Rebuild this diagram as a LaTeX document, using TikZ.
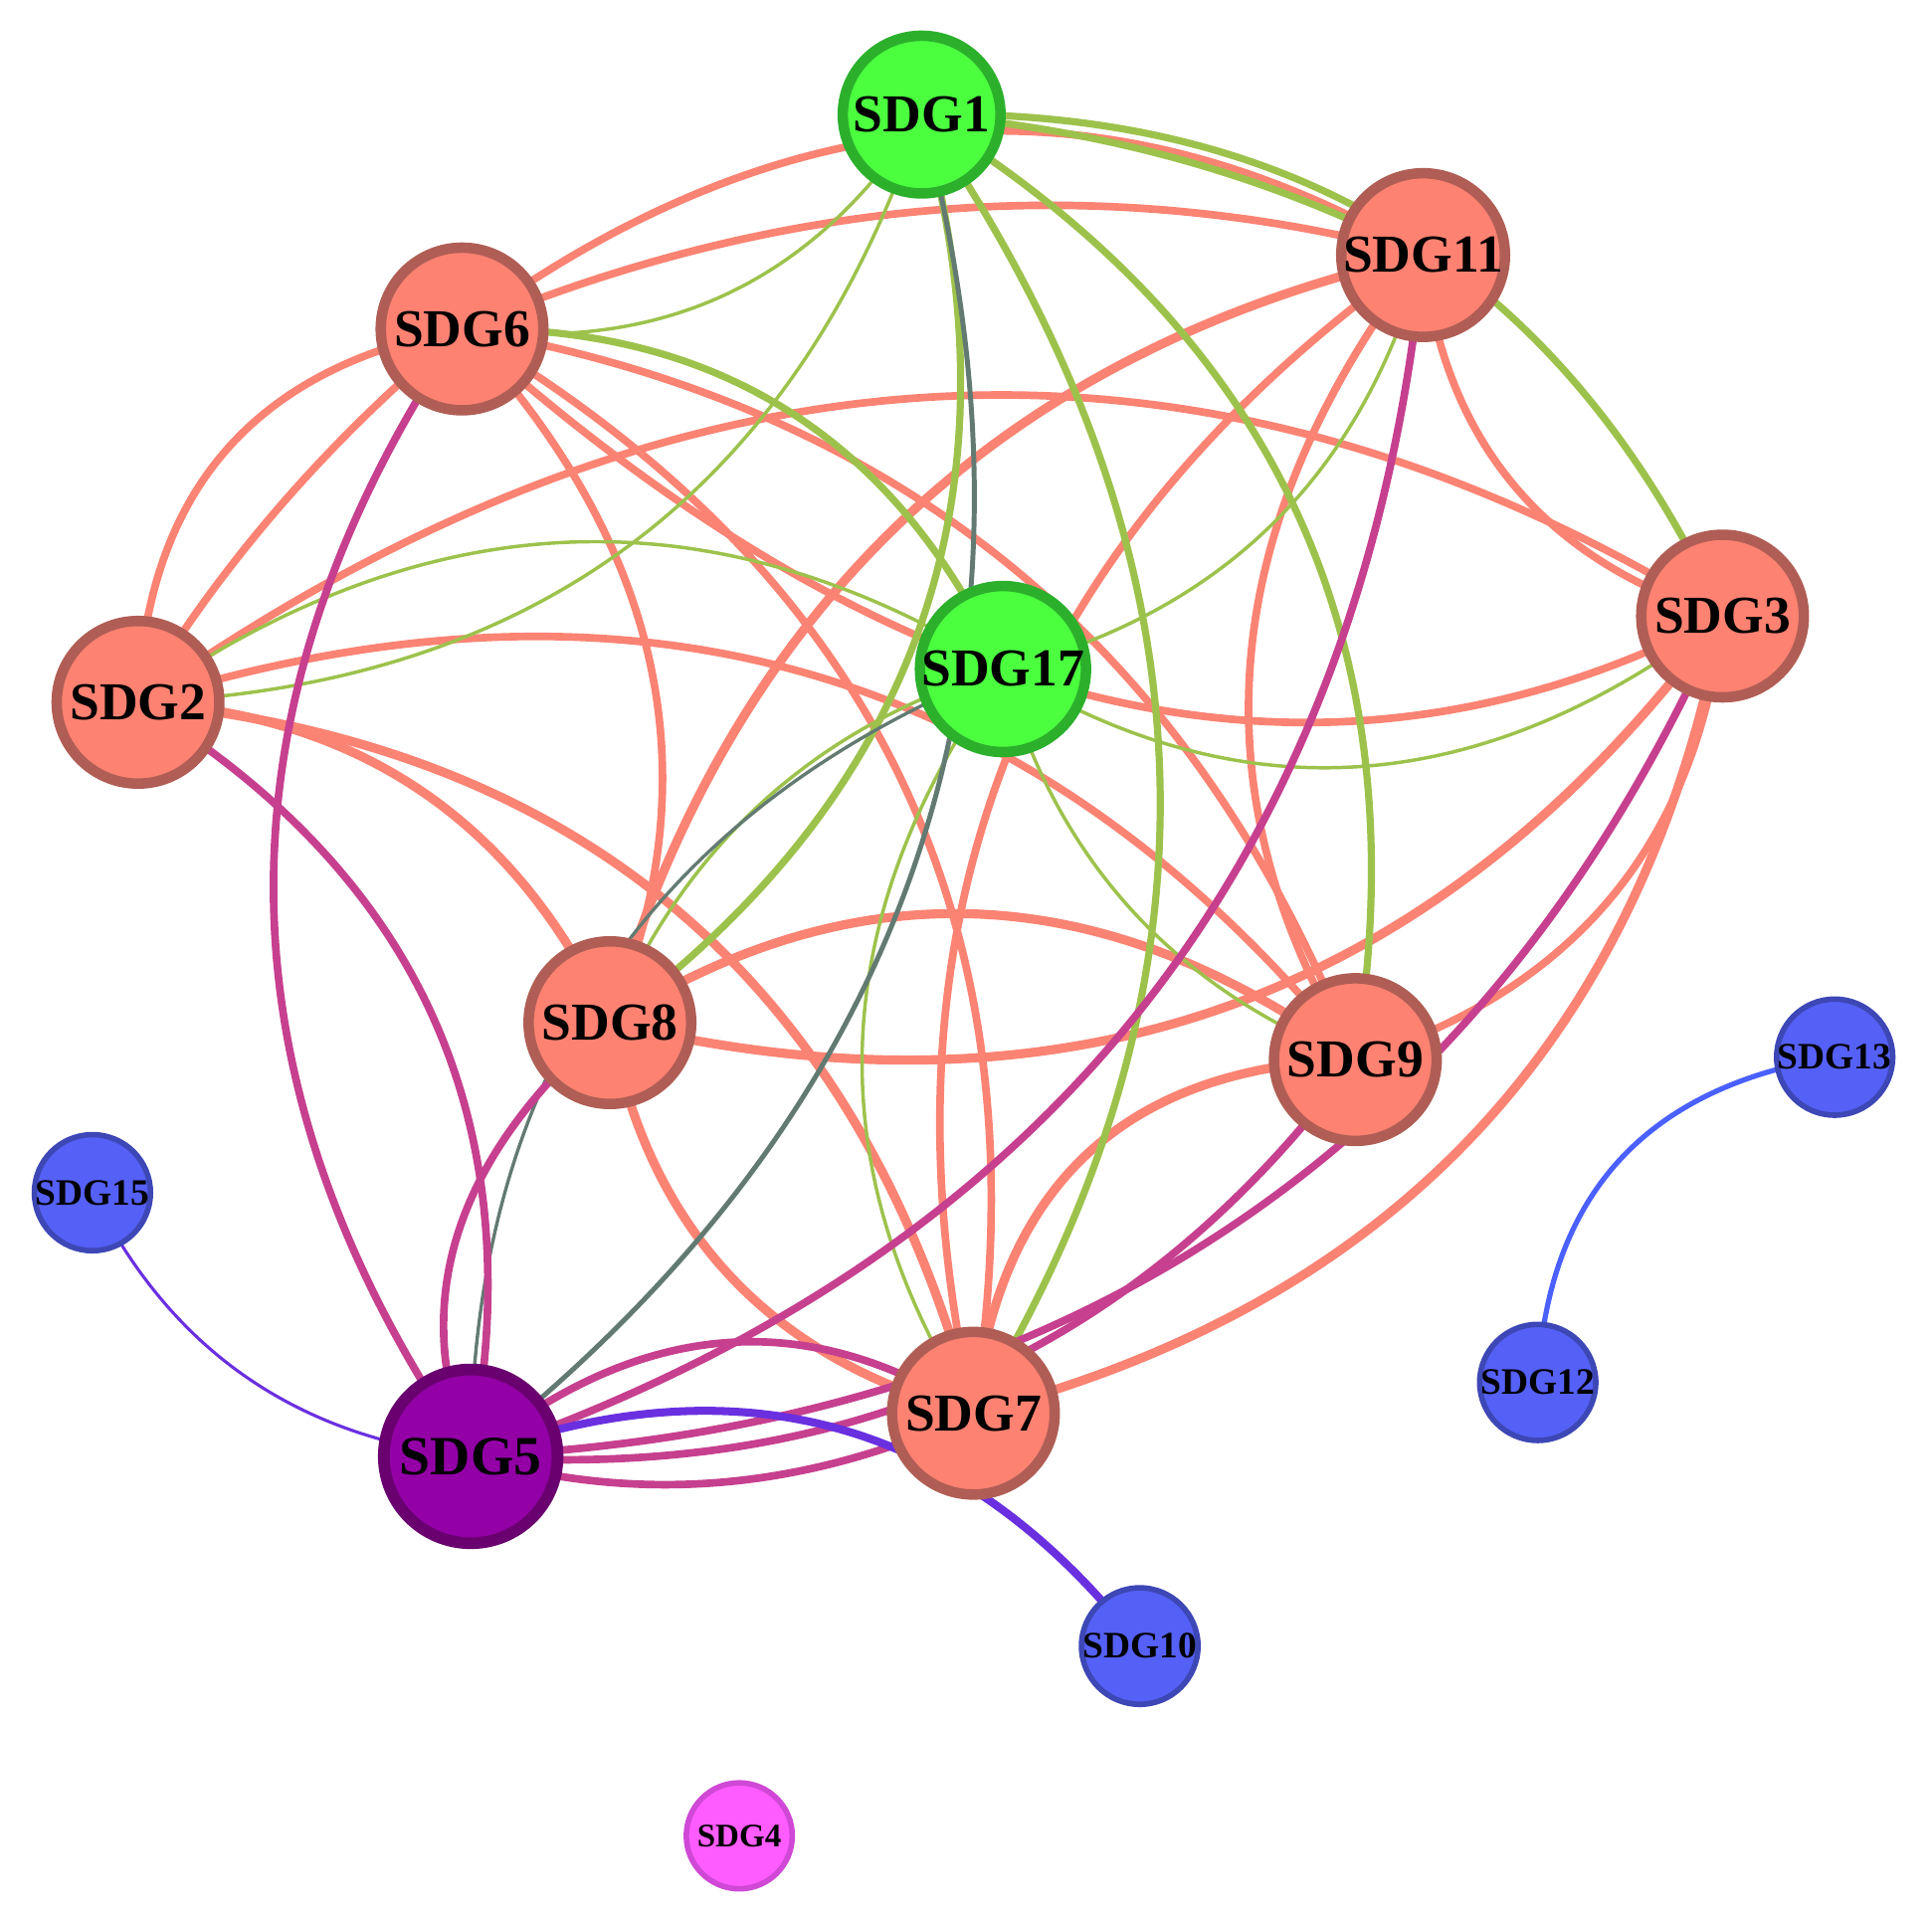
\documentclass[tikz,border=0pt]{standalone}
\usepackage{fontspec}
\setmainfont{Liberation Serif}
\usetikzlibrary{calc,backgrounds}
\definecolor{esalm}{HTML}{FA8373}
\definecolor{egrn}{HTML}{9DC24C}
\definecolor{epur}{HTML}{C6408F}
\definecolor{egry}{HTML}{627A72}
\definecolor{evio}{HTML}{6A30E0}
\definecolor{eblu}{HTML}{4A60FF}
\definecolor{fsalm}{HTML}{FD8272}
\definecolor{bsalm}{HTML}{B05E55}
\definecolor{fgrn}{HTML}{4BFF3F}
\definecolor{bgrn}{HTML}{2CB02C}
\definecolor{fpur}{HTML}{9200A6}
\definecolor{bpur}{HTML}{6A006F}
\definecolor{fblu}{HTML}{5560F6}
\definecolor{bblu}{HTML}{3D47B5}
\definecolor{fmag}{HTML}{FF5CFF}
\definecolor{bmag}{HTML}{CF48D6}
\newcommand\ed[4]{\draw[#1] (#2.center) .. controls ($1.3333*(#4)-0.3333*(#3.center)$) and ($1.3333*(#4)-0.3333*(#2.center)$) .. (#3.center);}
\tikzset{
  bignode/.style={circle, draw=bsalm, fill=fsalm, line width=0.85mm, minimum size=13.2mm, inner sep=0pt, font=\bfseries\fontsize{12.3pt}{12.3pt}\selectfont},
  grnnode/.style={bignode, draw=bgrn, fill=fgrn, minimum size=12.8mm},
  purnode/.style={bignode, draw=bpur, fill=fpur, line width=0.95mm, minimum size=14.1mm, font=\bfseries\fontsize{12.8pt}{12.8pt}\selectfont},
  smallnode/.style={circle, draw=bblu, fill=fblu, line width=0.45mm, minimum size=9.2mm, inner sep=0pt, font=\bfseries\fontsize{8.6pt}{8.6pt}\selectfont},
  magnode/.style={smallnode, draw=bmag, fill=fmag, minimum size=8.6mm, font=\bfseries\fontsize{7.6pt}{7.6pt}\selectfont},
  salm/.style={draw=esalm, line width=0.62mm},
  salmk/.style={draw=esalm, line width=0.74mm},
  grnk/.style={draw=egrn, line width=0.58mm},
  grnt/.style={draw=egrn, line width=0.28mm},
  purp/.style={draw=epur, line width=0.62mm},
  greyk/.style={draw=egry, line width=0.4mm},
  greyt/.style={draw=egry, line width=0.27mm},
  viot/.style={draw=evio, line width=0.25mm},
  viok/.style={draw=evio, line width=0.65mm},
  blue/.style={draw=eblu, line width=0.42mm}
}
\begin{document}
\begin{tikzpicture}[x=0.1mm, y=-0.1mm]
\useasboundingbox (0,0) rectangle (1568,1553.5);
% nodes
\node[grnnode] (sdg1) at (748,93) {SDG1};
\node[bignode] (sdg11) at (1155,207) {SDG11};
\node[bignode] (sdg6) at (375,267) {SDG6};
\node[bignode] (sdg3) at (1398,500) {SDG3};
\node[bignode] (sdg2) at (112,570) {SDG2};
\node[grnnode] (sdg17) at (814,543) {SDG17};
\node[bignode] (sdg8) at (495,830) {SDG8};
\node[bignode] (sdg9) at (1100,860) {SDG9};
\node[bignode] (sdg7) at (790,1147) {SDG7};
\node[purnode] (sdg5) at (382,1182) {SDG5};
\node[smallnode] (sdg15) at (75,968) {SDG15};
\node[smallnode] (sdg13) at (1489,858) {SDG13};
\node[smallnode] (sdg12) at (1248,1122) {SDG12};
\node[smallnode] (sdg10) at (925,1336) {SDG10};
\node[magnode] (sdg4) at (600,1490) {SDG4};
\begin{scope}[on background layer]
% salmon edges
\ed{salm}{sdg2}{sdg6}{183,366}
\ed{salm}{sdg2}{sdg6}{228,410}
\ed{salm}{sdg6}{sdg11}{765,108}
\ed{salm}{sdg6}{sdg11}{765,170}
\ed{salm}{sdg2}{sdg3}{760,322}
\ed{salm}{sdg6}{sdg3}{900,568}
\ed{salm}{sdg2}{sdg9}{660,548}
\ed{salmk}{sdg2}{sdg8}{342,642}
\ed{salmk}{sdg2}{sdg7}{551,740}
\ed{salm}{sdg6}{sdg8}{528,540}
\ed{salm}{sdg6}{sdg9}{821,460}
\ed{salm}{sdg6}{sdg7}{733,636}
\ed{salmk}{sdg8}{sdg11}{734,421}
\ed{salm}{sdg11}{sdg3}{1228,393}
\ed{salm}{sdg11}{sdg9}{1015,535}
\ed{salm}{sdg11}{sdg7}{816,617}
\ed{salmk}{sdg9}{sdg7}{883,936}
\ed{salmk}{sdg3}{sdg7}{1197,920}
\ed{salm}{sdg3}{sdg9}{1308,728}
\ed{salmk}{sdg3}{sdg8}{1001,815}
\ed{salmk}{sdg8}{sdg9}{797,742}
\ed{salmk}{sdg8}{sdg7}{592,1035}
% green edges
\ed{grnk}{sdg1}{sdg11}{960,130}
\ed{grnk}{sdg1}{sdg3}{1139,190}
\ed{grnk}{sdg1}{sdg9}{1053,417}
\ed{grnk}{sdg1}{sdg7}{941,620}
\ed{grnk}{sdg1}{sdg8}{748,505}
\ed{grnt}{sdg1}{sdg6}{589,239}
\ed{grnt}{sdg1}{sdg2}{513,441}
\ed{grnk}{sdg6}{sdg17}{639,333}
\ed{grnt}{sdg2}{sdg17}{463,440}
\ed{grnt}{sdg17}{sdg8}{621,649}
\ed{grnt}{sdg17}{sdg7}{700,845}
\ed{grnt}{sdg17}{sdg9}{917,737}
\ed{grnt}{sdg17}{sdg3}{1106,622}
\ed{grnt}{sdg17}{sdg11}{1033,425}
% grey edges
\ed{greyk}{sdg1}{sdg5}{744,697}
\ed{greyt}{sdg17}{sdg5}{491,790}
% purple edges
\ed{purp}{sdg2}{sdg5}{353,829}
\ed{purp}{sdg6}{sdg5}{222,725}
\ed{purp}{sdg8}{sdg5}{372,1000}
\ed{purp}{sdg11}{sdg5}{926,819}
\ed{purp}{sdg3}{sdg5}{1000,995}
\ed{purp}{sdg9}{sdg5}{790,1118}
\ed{purp}{sdg5}{sdg7}{586,1090}
\ed{purp}{sdg5}{sdg7}{586,1203}
% violet and blue edges
\ed{viot}{sdg15}{sdg5}{199,1117}
\ed{viok}{sdg5}{sdg10}{682,1160}
\ed{blue}{sdg13}{sdg12}{1314,942}
\end{scope}
\end{tikzpicture}
\end{document}
